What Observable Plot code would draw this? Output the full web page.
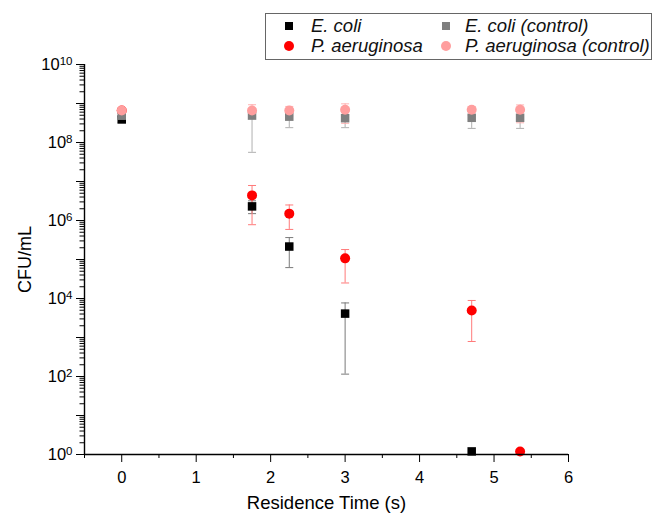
<!DOCTYPE html>
<html>
<head>
<meta charset="utf-8">
<script src="https://cdn.jsdelivr.net/npm/d3@7"></script>
<script src="https://cdn.jsdelivr.net/npm/@observablehq/plot@0.6"></script>
<style>
  body { margin: 0; background: #fff; font-family: "Liberation Sans", Arial, sans-serif; }
  #wrap { position: relative; width: 659px; height: 515px; }
  #legend { position: absolute; left: 265px; top: 13px; width: 387px; height: 47px; border: 1px solid #666; box-sizing: border-box; background: #fff; }
  .item { position: absolute; font-style: italic; font-size: 18.5px; line-height: 20px; color: #111; white-space: nowrap; }
  .sym { position: absolute; }
</style>
</head>
<body>
<div id="wrap"><div id="legend"></div></div>
<script>
// ---- data ----
const timeEcoli = [0, 1.75, 2.25, 3, 4.7];
const ecoli     = [3.9e8, 2.3e6, 2.15e5, 4.1e3, 1.2];
const ecoliLow  = [3.3e8, 1.5e6, 6.2e4, 1.15e2, null];
const ecoliHigh = [4.6e8, 3.2e6, 3.65e5, 7.7e3, null];

const timePa = [0, 1.75, 2.25, 3, 4.7, 5.35];
const pa     = [6.6e8, 4.4e6, 1.5e6, 1.07e5, 4.9e3, 1.2];
const paLow  = [5.6e8, 7.8e5, 5.9e5, 2.5e4, 7.9e2, null];
const paHigh = [7.6e8, 7.9e6, 2.5e6, 1.8e5, 8.9e3, null];

const timeControl      = [0, 1.75, 2.25, 3, 4.7, 5.35];
const ecoliControl     = [4.9e8, 4.9e8, 4.6e8, 4.2e8, 4.3e8, 4.3e8];
const ecoliControlLow  = [4.0e8, 5.6e7, 2.4e8, 2.4e8, 2.3e8, 2.3e8];
const ecoliControlHigh = [6.0e8, 6.5e8, 6.3e8, 6.0e8, 6.2e8, 6.2e8];
const paControl        = [6.6e8, 6.6e8, 6.6e8, 6.9e8, 6.9e8, 6.9e8];
const paControlLow     = [5.6e8, 4.5e8, 4.8e8, 3.1e8, 5.0e8, 3.2e8];
const paControlHigh    = [7.6e8, 9.3e8, 8.4e8, 9.8e8, 8.4e8, 9.2e8];

const seriesNames = ["E. coli", "P. aeruginosa", "E. coli (control)", "P. aeruginosa (control)"];
const xTicks = [0, 1, 2, 3, 4, 5, 6];
const xMinorTicks = [-0.5, 0.5, 1.5, 2.5, 3.5, 4.5, 5.5];
const yDecades = [0, 1, 2, 3, 4, 5, 6, 7, 8, 9, 10];
const xTitle = "Residence Time (s)";
const yTitle = "CFU/mL";

// ---- build tables ----
const rows = (t, v, lo, hi) => t.map((x, i) => ({t: x, v: v[i], lo: lo[i], hi: hi[i]}));
const dEc = rows(timeEcoli, ecoli, ecoliLow, ecoliHigh);
const dPa = rows(timePa, pa, paLow, paHigh);
const dEcC = rows(timeControl, ecoliControl, ecoliControlLow, ecoliControlHigh);
const dPaC = rows(timeControl, paControl, paControlLow, paControlHigh);

const yMajor = yDecades.map(e => Math.pow(10, e));
const yMinor = [];
for (const e of yDecades.slice(0, -1)) for (let k = 2; k <= 9; k++) yMinor.push(k * Math.pow(10, e));

const cap = { draw(ctx, size) { const w = Math.sqrt(size / Math.PI); ctx.moveTo(-w, 0); ctx.lineTo(w, 0); } };

function errorBars(data, color) {
  const d = data.filter(r => r.lo != null);
  return [
    Plot.ruleX(d, {x: "t", y1: "lo", y2: "hi", stroke: color, strokeWidth: 1}),
    Plot.dot(d, {x: "t", y: "lo", symbol: cap, r: 4, stroke: color, strokeWidth: 1, fill: "none"}),
    Plot.dot(d, {x: "t", y: "hi", symbol: cap, r: 4, stroke: color, strokeWidth: 1, fill: "none"})
  ];
}

const colors = {ec: "#000000", pa: "#ff0000", ecC: "#7f7f7f", paC: "#ff9e9e"};

const plot = Plot.plot({
  width: 659, height: 515,
  marginLeft: 84, marginRight: 91, marginTop: 64, marginBottom: 61,
  x: {domain: [-0.5, 6]},
  y: {type: "log", domain: [1, 1e10]},
  style: {fontFamily: "Liberation Sans, Arial, sans-serif", fontSize: "16.5px", color: "#000", background: "transparent", overflow: "visible"},
  marks: [
    ...errorBars(dEc, "#7a7a7a"),
    ...errorBars(dPa, "#ff7a7a"),
    Plot.dot(dPa, {x: "t", y: "v", symbol: "circle", r: 5, fill: colors.pa}),
    Plot.dot(dEc, {x: "t", y: "v", symbol: "square", r: 4.8, fill: colors.ec}),
    ...errorBars(dEcC, "#b0b0b0"),
    ...errorBars(dPaC, "#ffb3b3"),
    Plot.dot(dEcC, {x: "t", y: "v", symbol: "square", r: 4.8, fill: colors.ecC}),
    Plot.dot(dPaC, {x: "t", y: "v", symbol: "circle", r: 5, fill: colors.paC}),
    Plot.axisX({ticks: xTicks, tickSize: 8, tickPadding: 9, tickFormat: d => String(d), label: null}),
    Plot.axisX({ticks: xMinorTicks, tickSize: 4, tickFormat: () => "", label: null}),
    Plot.axisY({ticks: yMajor, tickSize: 8, tickPadding: 4, label: null,
      tickFormat: d => { const e = Math.round(Math.log10(d)); return e % 2 === 0 ? "10^" + e : ""; }}),
    Plot.axisY({ticks: yMinor, tickSize: 4.5, tickFormat: () => "", label: null}),
    Plot.ruleX([-0.5], {stroke: "#000", strokeWidth: 1.4}),
    Plot.ruleY([1], {stroke: "#000", strokeWidth: 1.4}),
    Plot.text([xTitle], {frameAnchor: "bottom", dy: 49, lineAnchor: "middle", textAnchor: "middle", fontSize: 18.5, text: d => d}),
    Plot.text([yTitle], {frameAnchor: "left", dx: -59, rotate: -90, lineAnchor: "middle", textAnchor: "middle", fontSize: 18, text: d => d})
  ]
});

// superscripts on the y tick labels
d3.select(plot).selectAll("text").each(function() {
  const s = this.textContent;
  if (!s || s.indexOf("^") < 0) return;
  const [b, e] = s.split("^");
  this.textContent = b;
  d3.select(this).append("tspan").attr("dy", "-0.45em").attr("font-size", "0.7em").text(e);
});

const wrap = document.getElementById("wrap");
wrap.insertBefore(plot, wrap.firstChild);

// legend
const legend = document.getElementById("legend");
const legendItems = [
  {name: seriesNames[0], color: colors.ec, shape: "square", sx: 23, tx: 45, cy: 12},
  {name: seriesNames[2], color: colors.ecC, shape: "square", sx: 180, tx: 199, cy: 12},
  {name: seriesNames[1], color: colors.pa, shape: "circle", sx: 23, tx: 45, cy: 32},
  {name: seriesNames[3], color: colors.paC, shape: "circle", sx: 180, tx: 199, cy: 32}
];
for (const it of legendItems) {
  const s = document.createElement("div");
  s.className = "sym";
  const size = it.shape === "square" ? 8 : 10;
  s.style.width = size + "px"; s.style.height = size + "px";
  s.style.left = (it.sx - size / 2) + "px"; s.style.top = (it.cy - size / 2) + "px";
  s.style.background = it.color;
  if (it.shape === "circle") s.style.borderRadius = "50%";
  legend.appendChild(s);
  const t = document.createElement("div");
  t.className = "item";
  t.textContent = it.name;
  t.style.left = it.tx + "px"; t.style.top = (it.cy - 10) + "px";
  legend.appendChild(t);
}
plot.style.position = "absolute"; plot.style.left = "0"; plot.style.top = "0";
</script>
</body>
</html>
